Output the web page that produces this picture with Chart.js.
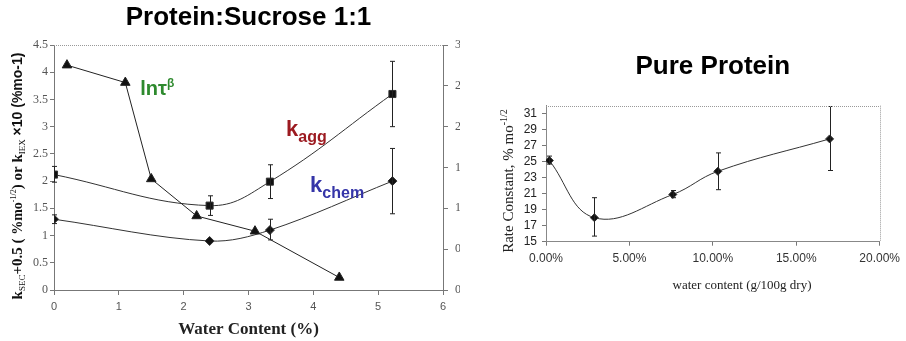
<!DOCTYPE html>
<html>
<head>
<meta charset="utf-8">
<script src="https://cdn.jsdelivr.net/npm/chart.js@4"></script>
<style>
  body { margin: 0; background: #fff; }
  #leftWrap { position: absolute; left: 0; top: 0; width: 460px; height: 341px; overflow: hidden; }
  #rightWrap { position: absolute; left: 470px; top: 0; width: 436px; height: 341px; }
</style>
</head>
<body>
<div id="leftWrap"><canvas id="left" width="460" height="341"></canvas></div>
<div id="rightWrap"><canvas id="right" width="436" height="341"></canvas></div>
<script>
// Protein:Sucrose 1:1 — water content (%)
const triX = [0.2, 1.1, 1.5, 2.2, 3.1, 4.4];
const triY = [4.13, 3.81, 2.04, 1.36, 1.08, 0.23];

const aggX = [0, 2.4, 3.33, 5.22];
const aggY = [2.12, 1.55, 1.99, 3.6];
const aggLow = [1.98, 1.37, 1.68, 3.0];
const aggHigh = [2.27, 1.73, 2.3, 4.2];

const chemX = [0, 2.4, 3.33, 5.22];
const chemY = [1.3, 0.9, 1.1, 2.0];
const chemLow = [1.22, null, 0.92, 1.4];
const chemHigh = [1.38, null, 1.3, 2.6];

// Pure Protein — water content (g/100g dry)
const pureX = [0.002, 0.029, 0.076, 0.103, 0.170];
const pureY = [25.15, 18.0, 20.9, 23.8, 27.85];
const pureLow = [24.7, 15.7, 20.5, 21.5, 23.9];
const pureHigh = [25.7, 20.5, 21.4, 26.1, 31.9];

const pureTicksY = [15, 17, 19, 21, 23, 25, 27, 29, 31];
const pureTicksX = [0, 0.05, 0.10, 0.15, 0.20];

const toPts = (xs, ys) => xs.map((x, i) => ({ x: x, y: ys[i] }));

const SERIF = '"Liberation Serif", "Times New Roman", serif';
const SANS = '"Liberation Sans", Arial, sans-serif';

function drawRuns(ctx, x, y, runs, angle, align) {
  ctx.save();
  ctx.translate(x, y);
  ctx.rotate(angle || 0);
  ctx.textBaseline = 'alphabetic';
  ctx.textAlign = 'left';
  let total = 0;
  runs.forEach(r => { ctx.font = r.font; total += ctx.measureText(r.text).width; });
  let cx = align === 'left' ? 0 : -total / 2;
  runs.forEach(r => {
    ctx.font = r.font;
    ctx.fillStyle = r.color || '#111';
    ctx.fillText(r.text, cx, r.dy || 0);
    cx += ctx.measureText(r.text).width;
  });
  ctx.restore();
}

// error bars from errLow / errHigh on each dataset
const errorBars = {
  id: 'errorBars',
  afterDatasetsDraw(chart) {
    const ctx = chart.ctx;
    chart.data.datasets.forEach((ds, i) => {
      if (!ds.errLow) return;
      const meta = chart.getDatasetMeta(i);
      const ys = chart.scales[meta.yAxisID];
      ctx.save();
      ctx.strokeStyle = '#222';
      ctx.lineWidth = 1;
      meta.data.forEach((pt, j) => {
        const lo = ds.errLow[j], hi = ds.errHigh[j];
        if (lo == null || hi == null) return;
        const x = Math.round(pt.x) + 0.5;
        const y1 = ys.getPixelForValue(lo), y2 = ys.getPixelForValue(hi);
        ctx.beginPath();
        ctx.moveTo(x, y1); ctx.lineTo(x, y2);
        ctx.moveTo(x - 2.5, y1); ctx.lineTo(x + 2.5, y1);
        ctx.moveTo(x - 2.5, y2); ctx.lineTo(x + 2.5, y2);
        ctx.stroke();
      });
      ctx.restore();
    });
  }
};

// dotted frame lines + rich text labels
const extras = {
  id: 'extras',
  afterDraw(chart, args, opts) {
    const ctx = chart.ctx;
    const a = chart.chartArea;
    ctx.save();
    ctx.strokeStyle = '#999';
    ctx.lineWidth = 1;
    ctx.setLineDash([1, 1]);
    ctx.beginPath();
    (opts.frame || []).forEach(side => {
      if (side === 'top') { ctx.moveTo(a.left, Math.round(a.top) + 0.5); ctx.lineTo(a.right, Math.round(a.top) + 0.5); }
      if (side === 'right') { ctx.moveTo(Math.round(a.right) + 0.5, a.top); ctx.lineTo(Math.round(a.right) + 0.5, a.bottom); }
    });
    ctx.stroke();
    ctx.restore();
    (opts.texts || []).forEach(t => {
      let x = t.px, y = t.py;
      if (t.xv !== undefined) {
        x = chart.scales.x.getPixelForValue(t.xv);
        y = chart.scales.y.getPixelForValue(t.yv);
      }
      drawRuns(ctx, x, y, t.runs, t.angle, t.align);
    });
  }
};

const axisGrid = { display: true, drawOnChartArea: false, drawTicks: true, tickLength: 4, color: '#777' };
const plain = v => String(v);

new Chart(document.getElementById('left'), {
  type: 'line',
  data: {
    datasets: [
      {
        label: 'ln tau beta',
        data: toPts(triX, triY),
        borderColor: '#222', backgroundColor: '#111', borderWidth: 1,
        pointStyle: 'triangle', pointRadius: 5.5, tension: 0
      },
      {
        label: 'k agg',
        data: toPts(aggX, aggY),
        errLow: aggLow, errHigh: aggHigh,
        borderColor: '#333', backgroundColor: '#111', borderWidth: 1,
        pointStyle: 'rect', pointRadius: 5, tension: 0.4
      },
      {
        label: 'k chem',
        data: toPts(chemX, chemY),
        errLow: chemLow, errHigh: chemHigh,
        borderColor: '#333', backgroundColor: '#111', borderWidth: 1,
        pointStyle: 'rectRot', pointRadius: 4.5, tension: 0.35
      }
    ]
  },
  options: {
    responsive: false,
    devicePixelRatio: 1,
    animation: false,
    layout: { padding: 0 },
    plugins: {
      legend: { display: false },
      tooltip: { enabled: false },
      title: {
        display: true, fullSize: false,
        text: 'Protein:Sucrose 1:1',
        color: '#000',
        font: { family: SANS, size: 26, weight: 'bold' },
        padding: { top: 2.4, bottom: 11.4 }
      },
      extras: {
        frame: ['top'],
        texts: [
          { px: 22, py: 176, angle: -Math.PI / 2, runs: [
            { text: 'k', font: 'bold 15px ' + SERIF },
            { text: 'SEC', font: '9px ' + SERIF, dy: 3 },
            { text: '+0.5 ( ', font: 'bold 15px ' + SERIF },
            { text: '%mo', font: 'bold 14px ' + SERIF },
            { text: '-1/2', font: '8px ' + SERIF, dy: -6 },
            { text: ') or k', font: 'bold 15px ' + SERIF },
            { text: 'IEX', font: '9px ' + SERIF, dy: 3 },
            { text: ' \u00d710 (%mo-1)', font: 'bold 14px ' + SANS }
          ] },
          { xv: 1.33, yv: 3.58, align: 'left', runs: [
            { text: 'ln\u03c4', font: 'bold 20px ' + SANS, color: '#2e8a2e' },
            { text: '\u03b2', font: 'bold 12px ' + SANS, color: '#2e8a2e', dy: -8 }
          ] },
          { xv: 3.58, yv: 2.83, align: 'left', runs: [
            { text: 'k', font: 'bold 22px ' + SANS, color: '#9c1a20' },
            { text: 'agg', font: 'bold 16px ' + SANS, color: '#9c1a20', dy: 6 }
          ] },
          { xv: 3.95, yv: 1.80, align: 'left', runs: [
            { text: 'k', font: 'bold 22px ' + SANS, color: '#3535a8' },
            { text: 'chem', font: 'bold 16px ' + SANS, color: '#3535a8', dy: 6 }
          ] }
        ]
      }
    },
    scales: {
      x: {
        type: 'linear', min: 0, max: 6,
        grid: Object.assign({}, axisGrid, { tickLength: 5 }),
        border: { color: '#777' },
        ticks: { stepSize: 1, color: '#555', padding: 5, font: { family: SANS, size: 11 } },
        title: {
          display: true, text: 'Water Content (%)', color: '#222',
          font: { family: SERIF, size: 17, weight: 'bold' },
          padding: { top: 0, bottom: 1 }
        },
        afterFit: s => { s.height = 51; }
      },
      y: {
        position: 'left', min: 0, max: 4.5,
        grid: axisGrid,
        border: { color: '#777' },
        ticks: { stepSize: 0.5, color: '#555', padding: 2, font: { family: SERIF, size: 12 }, callback: plain },
        afterFit: s => { s.width = 54; }
      },
      y2: {
        position: 'right', min: 0, max: 3,
        grid: Object.assign({}, axisGrid, { tickLength: 5 }),
        border: { color: '#777' },
        ticks: { stepSize: 0.5, color: '#555', padding: 7, font: { family: SERIF, size: 12 }, callback: plain },
        afterFit: s => { s.width = 17; }
      }
    }
  },
  plugins: [errorBars, extras]
});

new Chart(document.getElementById('right'), {
  type: 'line',
  data: {
    datasets: [
      {
        label: 'Rate Constant',
        data: toPts(pureX, pureY),
        errLow: pureLow, errHigh: pureHigh,
        borderColor: '#333', backgroundColor: '#111', borderWidth: 1,
        pointStyle: 'rectRot', pointRadius: 4, tension: 0.4
      }
    ]
  },
  options: {
    responsive: false,
    devicePixelRatio: 1,
    animation: false,
    layout: { padding: { left: 0, right: 23, top: 0, bottom: 0 } },
    plugins: {
      legend: { display: false },
      tooltip: { enabled: false },
      title: {
        display: true, fullSize: false,
        text: 'Pure Protein',
        color: '#000',
        font: { family: SANS, size: 26, weight: 'bold' },
        padding: { top: 51.4, bottom: 23.1 }
      },
      extras: {
        frame: ['top', 'right'],
        texts: [
          { px: 43, py: 181, angle: -Math.PI / 2, runs: [
            { text: 'Rate Constant, % mo', font: '15px ' + SERIF, color: '#222' },
            { text: '-1/2', font: '10px ' + SERIF, color: '#222', dy: -6 }
          ] },
          { px: 272, py: 289, runs: [
            { text: 'water content (g/100g dry)', font: '13px ' + SERIF, color: '#222' }
          ] }
        ]
      }
    },
    scales: {
      x: {
        type: 'linear', min: 0, max: 0.2,
        grid: axisGrid,
        border: { color: '#888' },
        afterBuildTicks: s => { s.ticks = pureTicksX.map(v => ({ value: v })); },
        ticks: {
          autoSkip: false, maxRotation: 0,
          color: '#333', padding: 6, font: { family: SANS, size: 12 },
          callback: v => (v * 100).toFixed(2) + '%'
        },
        afterFit: s => { s.height = 99.3; }
      },
      y: {
        min: 15, max: 32,
        grid: axisGrid,
        border: { color: '#888' },
        afterBuildTicks: s => { s.ticks = pureTicksY.map(v => ({ value: v })); },
        ticks: { autoSkip: false, color: '#222', padding: 5, font: { family: SANS, size: 12 }, callback: plain },
        afterFit: s => { s.width = 76; }
      }
    }
  },
  plugins: [errorBars, extras]
});
</script>
</body>
</html>
